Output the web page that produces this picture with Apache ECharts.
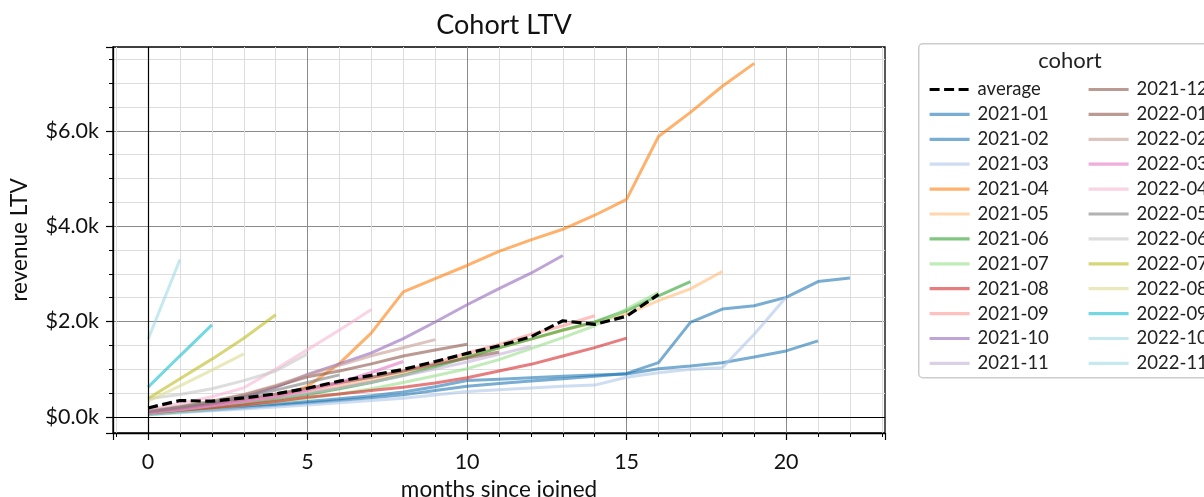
<!DOCTYPE html>
<html><head><meta charset="utf-8">
<script src="https://cdn.jsdelivr.net/npm/echarts@6/dist/echarts.min.js"></script>
<style>html,body{margin:0;padding:0;background:#fff}#c{width:1204px;height:497px}</style>
</head><body><div id="c"></div>
<script>
// ---- data (months since joined = array index) ----
const cohorts = ['2021-01','2021-02','2021-03','2021-04','2021-05','2021-06','2021-07','2021-08','2021-09','2021-10','2021-11','2021-12',
                 '2022-01','2022-02','2022-03','2022-04','2022-05','2022-06','2022-07','2022-08','2022-09','2022-10','2022-11'];
const ltv_2021_01 = [50, 100, 145, 190, 240, 290, 340, 400, 460, 550, 640, 700, 750, 800, 850, 910, 1136, 1980, 2261, 2331, 2507, 2838, 2915];
const ltv_2021_02 = [60, 115, 165, 215, 265, 320, 380, 440, 520, 630, 760, 790, 820, 850, 875, 900, 1009, 1065, 1136, 1255, 1382, 1593];
const ltv_2021_03 = [40, 85, 125, 165, 205, 250, 295, 340, 390, 455, 530, 570, 605, 640, 665, 830, 925, 995, 1030, 1734, 2507];
const ltv_2021_04 = [110, 170, 230, 300, 400, 640, 1120, 1760, 2620, 2900, 3175, 3470, 3713, 3935, 4230, 4561, 5882, 6388, 6937, 7416];
const ltv_2021_05 = [80, 150, 225, 310, 410, 520, 640, 770, 920, 1090, 1270, 1450, 1630, 1810, 1980, 2156, 2437, 2683, 3049];
const ltv_2021_06 = [70, 130, 200, 280, 370, 470, 590, 720, 870, 1050, 1250, 1450, 1630, 1820, 1990, 2230, 2540, 2838];
const ltv_2021_07 = [60, 115, 175, 240, 310, 390, 480, 590, 720, 860, 1010, 1200, 1430, 1660, 1910, 2262, 2612];
const ltv_2021_08 = [80, 135, 190, 250, 320, 410, 480, 550, 620, 710, 819, 960, 1101, 1276, 1452, 1650];
const ltv_2021_09 = [90, 160, 240, 330, 440, 580, 700, 830, 970, 1130, 1340, 1520, 1730, 1910, 2120];
const ltv_2021_10 = [100, 180, 270, 420, 620, 890, 1110, 1340, 1640, 1990, 2352, 2690, 3013, 3386];
const ltv_2021_11 = [80, 150, 230, 310, 400, 500, 610, 730, 860, 1000, 1150, 1310, 1480];
const ltv_2021_12 = [100, 180, 270, 370, 480, 600, 720, 830, 960, 1100, 1230, 1360];
const ltv_2022_01 = [120, 210, 320, 460, 640, 840, 960, 1110, 1276, 1400, 1523];
const ltv_2022_02 = [130, 220, 330, 470, 660, 880, 1080, 1280, 1450, 1620];
const ltv_2022_03 = [90, 160, 240, 330, 430, 560, 720, 930, 1160];
const ltv_2022_04 = [150, 280, 420, 608, 1000, 1410, 1820, 2250];
const ltv_2022_05 = [110, 200, 300, 420, 560, 720, 880];
const ltv_2022_06 = [380, 470, 590, 760, 960, 1320];
const ltv_2022_07 = [384, 800, 1210, 1650, 2140];
const ltv_2022_08 = [330, 650, 980, 1320];
const ltv_2022_09 = [622, 1280, 1930];
const ltv_2022_10 = [1628, 3302];
const ltv_2022_11 = [150];
const ltv_average = [186, 341, 327, 397, 480, 600, 749, 870, 995, 1160, 1330, 1490, 1680, 2015, 1940, 2110, 2570];
const yTicks = [0, 2000, 4000, 6000];
const xTicks = [0, 5, 10, 15, 20];

const cohortValues = [ltv_2021_01, ltv_2021_02, ltv_2021_03, ltv_2021_04, ltv_2021_05, ltv_2021_06, ltv_2021_07, ltv_2021_08,
  ltv_2021_09, ltv_2021_10, ltv_2021_11, ltv_2021_12, ltv_2022_01, ltv_2022_02, ltv_2022_03, ltv_2022_04, ltv_2022_05,
  ltv_2022_06, ltv_2022_07, ltv_2022_08, ltv_2022_09, ltv_2022_10, ltv_2022_11];

// ---- styles ----
const tab20 = ['#1f77b4','#aec7e8','#ff7f0e','#ffbb78','#2ca02c','#98df8a','#d62728','#ff9896','#9467bd','#c5b0d5',
               '#8c564b','#c49c94','#e377c2','#f7b6d2','#7f7f7f','#c7c7c7','#bcbd22','#dbdb8d','#17becf','#9edae5'];
const colorIdx = cohorts.map((c, i) => Math.min(19, Math.floor(i / (cohorts.length - 1) * 20)));
const FONT = 'Lato';

const series = cohorts.map((name, i) => ({
  name, type: 'line', symbol: 'none', silent: true,
  data: cohortValues[i].map((v, k) => [k, v]),
  lineStyle: { width: 3, color: tab20[colorIdx[i]], opacity: 0.6 },
  itemStyle: { color: tab20[colorIdx[i]], opacity: 0.6 },
  z: 2
}));
series[0].markLine = {
  silent: true, symbol: 'none', label: { show: false },
  lineStyle: { color: '#000', width: 1.2, type: 'solid', opacity: 1 },
  data: [{ xAxis: 0 }, { yAxis: 0 }], animation: false
};
series.push({
  name: 'average', type: 'line', symbol: 'none', silent: true,
  data: ltv_average.map((v, k) => [k, v]),
  lineStyle: { width: 3.2, color: '#000', type: [10, 4.5] },
  itemStyle: { color: '#000' }, z: 3
});

const legendCommon = {
  orient: 'vertical', itemWidth: 40, itemHeight: 14, itemGap: 5.9,
  itemStyle: { opacity: 0, borderWidth: 0 },
  lineStyle: { width: 3.2 },
  textStyle: { fontFamily: FONT, fontSize: 18.5, color: '#222', padding: [0, 0, 0, 3] },
  selectedMode: false
};

const chart = echarts.init(document.getElementById('c'), null, { renderer: 'canvas' });
chart.setOption({
  animation: false,
  backgroundColor: '#fff',
  title: [
    { text: 'Cohort LTV', left: 499, top: 7, textAlign: 'center',
      textStyle: { fontFamily: FONT, fontSize: 27, fontWeight: 'normal', color: '#111' } },
    { text: 'cohort', left: 1065, top: 45, textAlign: 'center',
      textStyle: { fontFamily: FONT, fontSize: 22, fontWeight: 'normal', color: '#222' } }
  ],
  graphic: [{
    type: 'rect', left: 918, top: 43, z: -1, silent: true,
    shape: { width: 320, height: 334, r: 4 },
    style: { fill: '#fff', stroke: '#cccccc', lineWidth: 1.5 }
  }],
  legend: [
    Object.assign({ left: 923, top: 75, data: ['average'].concat(cohorts.slice(0, 11)) }, legendCommon),
    Object.assign({ left: 1082, top: 75, data: cohorts.slice(11) }, legendCommon)
  ],
  grid: { left: 113, right: 319, top: 47, bottom: 64, show: true, borderColor: '#000', borderWidth: 1.3,
          backgroundColor: 'transparent', containLabel: false, outerBoundsMode: 'none' },
  xAxis: {
    type: 'value', min: -1.1, max: 23.1, splitNumber: 5,
    name: 'months since joined', nameLocation: 'middle', nameGap: 44,
    nameTextStyle: { fontFamily: FONT, fontSize: 22.5, color: '#111' },
    axisLine: { show: true, onZero: false, lineStyle: { color: '#000', width: 1.3 } },
    axisTick: { show: true, length: 7, lineStyle: { color: '#000', width: 1.2 } },
    minorTick: { show: true, splitNumber: 5, length: 4, lineStyle: { color: '#000', width: 1 } },
    axisLabel: { fontFamily: FONT, fontSize: 21.5, color: '#111', margin: 18, showMinLabel: false, showMaxLabel: false,
      formatter: v => xTicks.includes(Math.round(v * 100) / 100) ? String(v) : '' },
    splitLine: { show: true, showMinLine: false, showMaxLine: false, lineStyle: { color: '#8a8a8a', width: 1 } },
    minorSplitLine: { show: true, lineStyle: { color: '#dddddd', width: 1 } }
  },
  yAxis: {
    type: 'value', min: -340, max: 7760, splitNumber: 4,
    name: 'revenue LTV', nameLocation: 'middle', nameGap: 82,
    nameTextStyle: { fontFamily: FONT, fontSize: 22.5, color: '#111' },
    axisLine: { show: true, onZero: false, lineStyle: { color: '#000', width: 1.3 } },
    axisTick: { show: true, length: 7, lineStyle: { color: '#000', width: 1.2 } },
    minorTick: { show: true, splitNumber: 4, length: 4, lineStyle: { color: '#000', width: 1 } },
    axisLabel: { fontFamily: FONT, fontSize: 21.5, color: '#111', margin: 14, showMinLabel: false, showMaxLabel: false,
      formatter: v => yTicks.includes(Math.round(v)) ? '$' + (v / 1000).toFixed(1) + 'k' : '' },
    splitLine: { show: true, showMinLine: false, showMaxLine: false, lineStyle: { color: '#8a8a8a', width: 1 } },
    minorSplitLine: { show: true, lineStyle: { color: '#dddddd', width: 1 } }
  },
  tooltip: { show: false },
  series
});
</script></body></html>
